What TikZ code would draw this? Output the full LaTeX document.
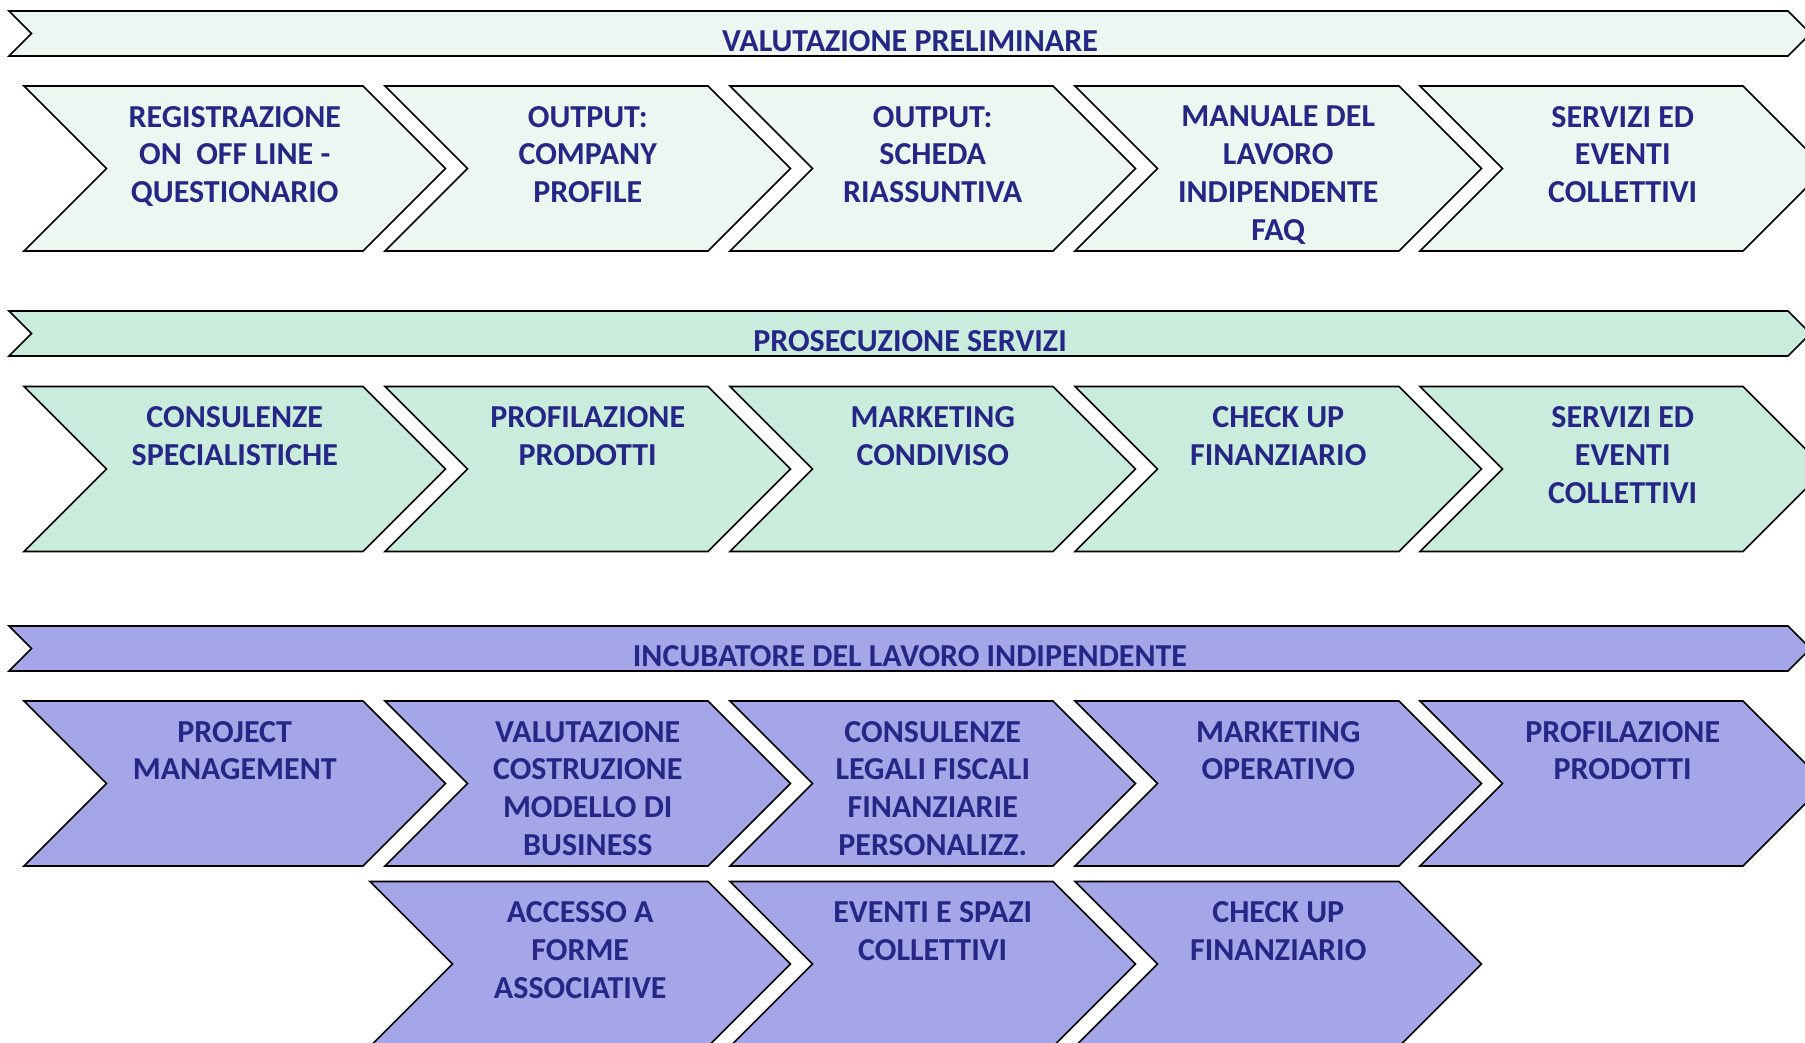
\documentclass[tikz,border=0pt]{standalone}
\usepackage{fontspec}
\setmainfont{Carlito}
\definecolor{navy}{RGB}{38,38,135}
\definecolor{cA}{RGB}{237,247,241}
\definecolor{cB}{RGB}{202,236,220}
\definecolor{cC}{RGB}{164,166,232}
\tikzset{
  shapeline/.style={draw=black,line width=1.6pt,line join=miter},
  lbl/.style={anchor=north,inner sep=0pt,align=center,text=navy,font=\bfseries\fontsize{32}{37.7}\selectfont},
}
\newcommand\chevron[6]{%
  \draw[shapeline,fill=#4] (#1,#3) -- (#2,#3) -- ({#2+82.5},{#3+82.5}) -- (#2,{#3+165}) -- (#1,{#3+165}) -- ({#1+82.5},{#3+82.5}) -- cycle;
  \node[lbl] (#5) at ({(#1+82.5+#2)/2},{#3+20}) {#6};
}
\newcommand\banner[4]{%
  \draw[shapeline,fill=#2] (9,#1) -- (1788,#1) -- (1810.5,{#1+22.5}) -- (1788,{#1+45}) -- (9,{#1+45}) -- (31.5,{#1+22.5}) -- cycle;
  \node[lbl] (#3) at (910,{#1+19.7}) {#4};
}
\begin{document}
\begin{tikzpicture}[x=1pt,y=-1pt]
\useasboundingbox (0,0) rectangle (1805,1042);
\clip (0,0) rectangle (1805,1042);
\fill[white] (0,0) rectangle (1805,1042);

\banner{11}{cA}{b1}{VALUTAZIONE PRELIMINARE}
\chevron{24}{363}{86}{cA}{a1}{REGISTRAZIONE\\ON\ \ OFF LINE -\\QUESTIONARIO}
\chevron{385}{708}{86}{cA}{a2}{OUTPUT:\\COMPANY\\PROFILE}
\chevron{730}{1053}{86}{cA}{a3}{OUTPUT:\\SCHEDA\\RIASSUNTIVA}
\chevron{1075}{1399}{86}{cA}{a4}{MANUALE DEL\\LAVORO\\INDIPENDENTE\\FAQ}
\chevron{1420}{1743}{86}{cA}{a5}{SERVIZI ED\\EVENTI\\COLLETTIVI}

\banner{311}{cB}{b2}{PROSECUZIONE SERVIZI}
\chevron{24}{363}{386.5}{cB}{s1}{CONSULENZE\\SPECIALISTICHE}
\chevron{385}{708}{386.5}{cB}{s2}{PROFILAZIONE\\PRODOTTI}
\chevron{730}{1053}{386.5}{cB}{s3}{MARKETING\\CONDIVISO}
\chevron{1075}{1399}{386.5}{cB}{s4}{CHECK UP\\FINANZIARIO}
\chevron{1420}{1743}{386.5}{cB}{s5}{SERVIZI ED\\EVENTI\\COLLETTIVI}

\banner{626}{cC}{b3}{INCUBATORE DEL LAVORO INDIPENDENTE}
\chevron{24}{363}{701}{cC}{i1}{PROJECT\\MANAGEMENT}
\chevron{385}{708}{701}{cC}{i2}{VALUTAZIONE\\COSTRUZIONE\\MODELLO DI\\BUSINESS}
\chevron{730}{1053}{701}{cC}{i3}{CONSULENZE\\LEGALI FISCALI\\FINANZIARIE\\PERSONALIZZ.}
\chevron{1075}{1399}{701}{cC}{i4}{MARKETING\\OPERATIVO}
\chevron{1420}{1743}{701}{cC}{i5}{PROFILAZIONE\\PRODOTTI}

\chevron{370}{708}{881.5}{cC}{j1}{ACCESSO A\\FORME\\ASSOCIATIVE}
\chevron{730}{1053}{881.5}{cC}{j2}{EVENTI E SPAZI\\COLLETTIVI}
\chevron{1075}{1399}{881.5}{cC}{j3}{CHECK UP\\FINANZIARIO}
\end{tikzpicture}
\end{document}
